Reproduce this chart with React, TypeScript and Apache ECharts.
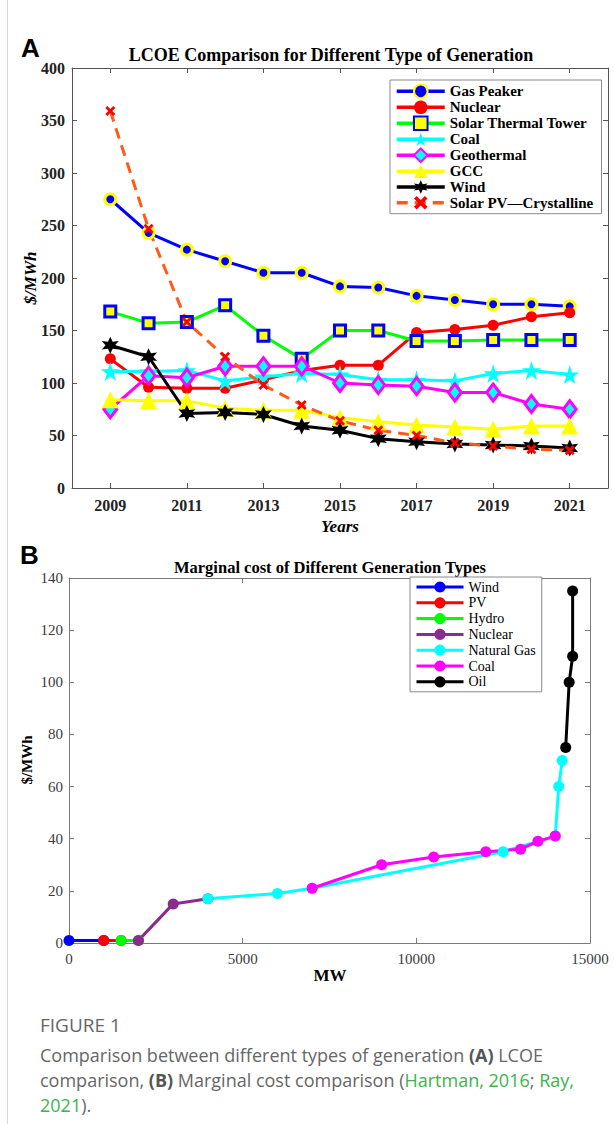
import React, { useEffect, useRef } from 'react';
import * as echarts from 'echarts';

// ---------- Chart A data ----------
const years = [2009, 2010, 2011, 2012, 2013, 2014, 2015, 2016, 2017, 2018, 2019, 2020, 2021];
const yearTicks = [2009, 2011, 2013, 2015, 2017, 2019, 2021];
const gasPeaker = [275, 243, 227, 216, 205, 205, 192, 191, 183, 179, 175, 175, 173];
const nuclearA = [123, 96, 95, 95, 103, 112, 117, 117, 148, 151, 155, 163, 167];
const solarThermal = [168, 157, 158, 174, 145, 123, 150, 150, 140, 140, 141, 141, 141];
const coalA = [111, 111, 112, 102, 106, 109, 108, 103, 103, 102, 109, 112, 108];
const geothermal = [75, 107, 105, 116, 116, 116, 100, 98, 97, 91, 91, 80, 75];
const gcc = [84, 83, 83, 76, 74, 74, 67, 63, 60, 58, 56, 59, 59];
const windA = [136, 125, 71, 72, 70, 59, 55, 47, 44, 42, 41, 40, 38];
const solarPV = [359, 247, 158, 125, 98, 79, 64, 55, 50, 43, 40, 37, 36];

// ---------- Chart B data ([MW, $/MWh]) ----------
const windB = [[0, 1], [1000, 1]];
const pvB = [[1000, 1], [1500, 1]];
const hydroB = [[1500, 1], [2000, 1]];
const nuclearB = [[2000, 1], [3000, 15], [4000, 17]];
const gasB = [[4000, 17], [6000, 19], [7000, 21], [12500, 35], [14000, 41], [14100, 60], [14200, 70]];
const coalB = [[7000, 21], [9000, 30], [10500, 33], [12000, 35], [13000, 36], [13500, 39], [14000, 41]];
const oilB = [[14300, 75], [14400, 100], [14500, 110], [14500, 135]];

const serif = "'Liberation Serif', 'Times New Roman', serif";
const sans = "'Liberation Sans', Arial, sans-serif";
const capFont = "'Open Sans', 'Noto Sans', sans-serif";

const STAR5 = 'path://M50,0 L61,35 L98,35 L68,57 L79,91 L50,70 L21,91 L32,57 L2,35 L39,35 Z';
const STAR6 = 'path://M50,0 L62,29 L93,25 L74,50 L93,75 L62,71 L50,100 L38,71 L7,75 L26,50 L7,25 L38,29 Z';
const XMARK = 'path://M20,0 L50,30 L80,0 L100,20 L70,50 L100,80 L80,100 L50,70 L20,100 L0,80 L30,50 L0,20 Z';

const plain = (v: number) => String(v);

function txt(text: string, x: number, y: number, font: any, extra: any = {}) {
  const align = font.align || 'center';
  const va = font.va || 'middle';
  return {
    type: 'text',
    x,
    y,
    rotation: font.rotation || 0,
    silent: true,
    style: {
      text,
      fontFamily: font.family,
      fontSize: font.size,
      fontWeight: font.weight || 'normal',
      fontStyle: font.style || 'normal',
      fill: font.color || '#000',
      align,
      textAlign: align,
      verticalAlign: va,
      textVerticalAlign: va,
      ...extra,
    },
  };
}

function buildA() {
  const axisC = '#555555';
  const mk = (name: string, vals: number[], lineColor: string, sym: any, symSize: any, itemStyle: any, lineExtra: any = {}) => ({
    type: 'line',
    name,
    data: years.map((y, i) => [y, vals[i]]),
    symbol: sym,
    symbolSize: symSize,
    showAllSymbol: true,
    lineStyle: { color: lineColor, width: 3, ...lineExtra },
    itemStyle,
    emphasis: { disabled: true },
  });
  const xBase = {
    type: 'value',
    min: 2008,
    max: 2022,
    axisLine: { show: true, onZero: false, lineStyle: { color: axisC, width: 1 } },
    axisTick: { show: true, inside: true, length: 5, customValues: yearTicks, lineStyle: { color: axisC } },
    splitLine: { show: false },
  };
  const yBase = {
    type: 'value',
    min: 0,
    max: 400,
    interval: 50,
    axisLine: { show: true, onZero: false, lineStyle: { color: axisC, width: 1 } },
    axisTick: { show: true, inside: true, length: 5, lineStyle: { color: axisC } },
    splitLine: { show: false },
  };
  return {
    animation: false,
    backgroundColor: '#ffffff',
    grid: { left: 72, top: 68, width: 536, height: 420 },
    xAxis: [
      { ...xBase, position: 'bottom', axisLabel: { customValues: yearTicks, formatter: plain, fontFamily: serif, fontWeight: 'bold', fontSize: 16, color: '#222', margin: 9 } },
      { ...xBase, position: 'top', axisLabel: { show: false } },
    ],
    yAxis: [
      { ...yBase, position: 'left', axisLabel: { formatter: plain, fontFamily: serif, fontWeight: 'bold', fontSize: 16, color: '#222', margin: 7 } },
      { ...yBase, position: 'right', axisLabel: { show: false } },
    ],
    legend: {
      orient: 'vertical',
      left: 390,
      top: 80,
      itemWidth: 48,
      itemHeight: 17,
      itemGap: 0.7,
      itemTextGap: 5,
      padding: [3.5, 8, 3.5, 5],
      backgroundColor: '#ffffff',
      borderColor: '#8a8a8a',
      borderWidth: 1,
      borderRadius: 0,
      selectedMode: false,
      lineStyle: { width: 3.5 },
      textStyle: { fontFamily: serif, fontWeight: 'bold', fontSize: 15, color: '#000' },
    },
    series: [
      mk('Gas Peaker', gasPeaker, '#0000ff', 'circle', 11, { color: '#0000ff', borderColor: '#ffff00', borderWidth: 3 }),
      mk('Nuclear', nuclearA, '#ff0000', 'circle', 11, { color: '#ff0000' }),
      mk('Solar Thermal Tower', solarThermal, '#00ff00', 'rect', 11, { color: '#ffff00', borderColor: '#0000ff', borderWidth: 3 }),
      mk('Coal', coalA, '#00ffff', STAR5, 19, { color: '#00ffff' }),
      mk('Geothermal', geothermal, '#ff00ff', 'diamond', [13, 17], { color: '#00ffff', borderColor: '#ff00ff', borderWidth: 3 }),
      mk('GCC', gcc, '#ffff00', 'triangle', 17, { color: '#ffff00' }),
      mk('Wind', windA, '#000000', STAR6, 17, { color: '#000000' }),
      mk('Solar PV\u2014Crystalline', solarPV, '#ff5a1a', XMARK, 10, { color: '#ff0000' }, { type: [11, 7] }),
    ],
    graphic: [
      txt('A', 21, 48, { family: sans, size: 26, weight: 'bold', align: 'left' }),
      txt('LCOE Comparison for Different Type of Generation', 331, 55, { family: serif, size: 18, weight: 'bold' }),
      txt('$/MWh', 30, 278, { family: serif, size: 17, weight: 'bold', style: 'italic', rotation: Math.PI / 2 }),
      txt('Years', 340, 526, { family: serif, size: 17, weight: 'bold', style: 'italic' }),
    ],
  };
}

function buildB() {
  const axisC = '#7a7a7a';
  const mk = (name: string, data: number[][], color: string) => ({
    type: 'line',
    name,
    data,
    symbol: 'circle',
    symbolSize: 11,
    showAllSymbol: true,
    lineStyle: { color, width: 3 },
    itemStyle: { color },
    emphasis: { disabled: true },
  });
  const xBase = {
    type: 'value',
    min: 0,
    max: 15000,
    interval: 5000,
    axisLine: { show: true, onZero: false, lineStyle: { color: axisC, width: 1 } },
    axisTick: { show: true, inside: true, length: 5, lineStyle: { color: axisC } },
    splitLine: { show: false },
  };
  const yBase = {
    type: 'value',
    min: 0,
    max: 140,
    interval: 20,
    axisLine: { show: true, onZero: false, lineStyle: { color: axisC, width: 1 } },
    axisTick: { show: true, inside: true, length: 5, lineStyle: { color: axisC } },
    splitLine: { show: false },
  };
  const capStyle = { fontFamily: capFont, fontSize: 18, fill: '#666666' };
  return {
    animation: false,
    backgroundColor: '#ffffff',
    grid: { left: 69, top: 38, width: 521, height: 365 },
    xAxis: [
      { ...xBase, position: 'bottom', axisLabel: { formatter: plain, fontFamily: serif, fontSize: 15, color: '#3a3a3a', margin: 8 } },
      { ...xBase, position: 'top', axisLabel: { show: false } },
    ],
    yAxis: [
      { ...yBase, position: 'left', axisLabel: { formatter: plain, fontFamily: serif, fontSize: 15, color: '#3a3a3a', margin: 6 } },
      { ...yBase, position: 'right', axisLabel: { show: false } },
    ],
    legend: {
      orient: 'vertical',
      left: 410,
      top: 37,
      itemWidth: 47,
      itemHeight: 14,
      itemGap: 1.8,
      itemTextGap: 4,
      padding: [3, 6, 3, 5],
      backgroundColor: '#ffffff',
      borderColor: '#8a8a8a',
      borderWidth: 1,
      borderRadius: 0,
      selectedMode: false,
      lineStyle: { width: 3 },
      textStyle: { fontFamily: serif, fontSize: 14, color: '#000' },
    },
    series: [
      mk('Wind', windB, '#0000ff'),
      mk('PV', pvB, '#ff0000'),
      mk('Hydro', hydroB, '#00ff00'),
      mk('Nuclear', nuclearB, '#8a2c8e'),
      mk('Natural Gas', gasB, '#00ffff'),
      mk('Coal', coalB, '#ff00ff'),
      mk('Oil', oilB, '#000000'),
    ],
    graphic: [
      txt('B', 20, 15, { family: sans, size: 26, weight: 'bold', align: 'left' }),
      txt('Marginal cost of Different Generation Types', 330, 27, { family: serif, size: 16.5, weight: 'bold' }),
      txt('$/MWh', 27, 220, { family: serif, size: 15, weight: 'bold', rotation: Math.PI / 2 }),
      txt('MW', 330, 435, { family: serif, size: 17, weight: 'bold' }),
      txt('FIGURE 1', 40, 485, { family: capFont, size: 19, align: 'left', color: '#666666' }),
      {
        type: 'text',
        x: 40,
        y: 515,
        silent: true,
        style: {
          text: 'Comparison between different types of generation {b|(A)} LCOE',
          ...capStyle,
          align: 'left', textAlign: 'left', verticalAlign: 'middle', textVerticalAlign: 'middle',
          rich: { b: { ...capStyle, fontWeight: 'bold', fill: '#555555' } },
        },
      },
      {
        type: 'text',
        x: 40,
        y: 540,
        silent: true,
        style: {
          text: 'comparison, {b|(B)} Marginal cost comparison ({g|Hartman, 2016}; {g|Ray,}',
          ...capStyle,
          align: 'left', textAlign: 'left', verticalAlign: 'middle', textVerticalAlign: 'middle',
          rich: { b: { ...capStyle, fontWeight: 'bold', fill: '#555555' }, g: { ...capStyle, fill: '#3cb44b' } },
        },
      },
      {
        type: 'text',
        x: 40,
        y: 565,
        silent: true,
        style: {
          text: '{g|2021}).',
          ...capStyle,
          align: 'left', textAlign: 'left', verticalAlign: 'middle', textVerticalAlign: 'middle',
          rich: { g: { ...capStyle, fill: '#3cb44b' } },
        },
      },
    ],
  };
}

export default function App() {
  const refA = useRef<HTMLDivElement>(null);
  const refB = useRef<HTMLDivElement>(null);
  useEffect(() => {
    const a = echarts.init(refA.current!, undefined, { renderer: 'svg' });
    const b = echarts.init(refB.current!, undefined, { renderer: 'svg' });
    a.setOption(buildA() as any);
    b.setOption(buildB() as any);
    return () => {
      a.dispose();
      b.dispose();
    };
  }, []);
  return (
    <div style={{ position: 'absolute', left: 0, top: 0, width: 614, height: 1124, background: '#fff', overflow: 'hidden' }}>
      <div ref={refA} style={{ position: 'absolute', left: 0, top: 0, width: 614, height: 540 }} />
      <div ref={refB} style={{ position: 'absolute', left: 0, top: 540, width: 614, height: 584 }} />
      <div style={{ position: 'absolute', left: 7, top: 0, width: 1, height: 1124, background: '#d6d6d6' }} />
    </div>
  );
}
